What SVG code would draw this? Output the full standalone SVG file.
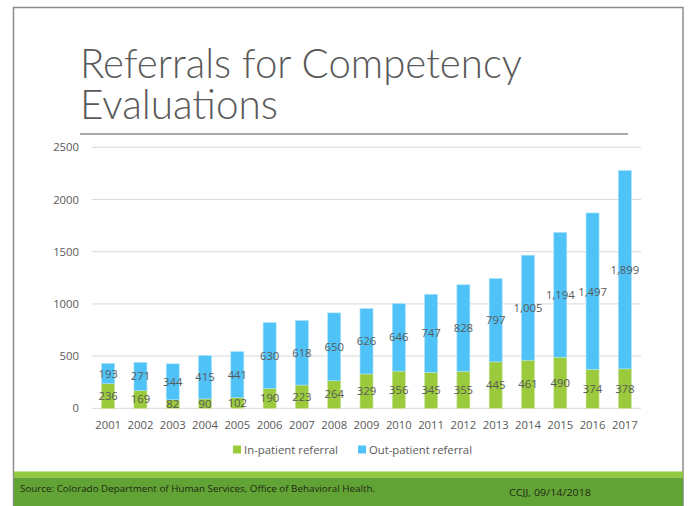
<svg xmlns="http://www.w3.org/2000/svg" width="691" height="506" viewBox="0 0 691 506">
<style>
.t{font-family:"Open Sans","Liberation Sans",sans-serif;fill:#595959;font-size:11.3px}
.m{text-anchor:middle}
.r{text-anchor:end}
.g{fill:#9bcb3c;stroke:#c9e59a;stroke-width:0.6}
.b{fill:#4fc3f7;stroke:#a8e2fb;stroke-width:0.6}
.grid{stroke:#d9d9d9;stroke-width:1}
.title{font-family:Lato,"Open Sans","Liberation Sans",sans-serif;font-weight:300;fill:#595959;font-size:42px}
.foot{font-family:"Open Sans","Liberation Sans",sans-serif;fill:#1e2a12;font-size:9px}
</style>
<rect x="0" y="0" width="691" height="506" fill="#ffffff"/>
<rect x="13.5" y="7.5" width="669.5" height="500" fill="none" stroke="#8c8c8c" stroke-width="1.5"/>
<g id="title">
<text class="title" x="80" y="78" textLength="442" lengthAdjust="spacingAndGlyphs">Referrals for Competency</text>
<text class="title" x="80" y="119" textLength="198" lengthAdjust="spacingAndGlyphs">Evaluations</text>
<line x1="80" y1="134" x2="628" y2="134" stroke="#8c8c8c" stroke-width="1.5"/>
</g>
<g id="axes">
<line class="grid" x1="92" y1="147.3" x2="641" y2="147.3"/>
<line class="grid" x1="92" y1="199.5" x2="641" y2="199.5"/>
<line class="grid" x1="92" y1="251.7" x2="641" y2="251.7"/>
<line class="grid" x1="92" y1="303.9" x2="641" y2="303.9"/>
<line class="grid" x1="92" y1="356.1" x2="641" y2="356.1"/>
<line class="grid" x1="92" y1="408.3" x2="641" y2="408.3"/>
<text class="t r" x="79" y="151.3">2500</text>
<text class="t r" x="79" y="203.5">2000</text>
<text class="t r" x="79" y="255.7">1500</text>
<text class="t r" x="79" y="307.9">1000</text>
<text class="t r" x="79" y="360.1">500</text>
<text class="t r" x="79" y="412.3">0</text>
</g>
<g id="bars">
<g id="y2001"><rect class="g" x="101.65" y="383.66" width="13" height="24.64"/><rect class="b" x="101.65" y="363.51" width="13" height="20.15"/><text class="t m" x="108.15" y="399.9">236</text><text class="t m" x="108.15" y="377.5">193</text><text class="t m" x="108.15" y="429">2001</text></g>
<g id="y2002"><rect class="g" x="133.94" y="390.66" width="13" height="17.64"/><rect class="b" x="133.94" y="362.37" width="13" height="28.29"/><text class="t m" x="140.44" y="403.4">169</text><text class="t m" x="140.44" y="380.4">271</text><text class="t m" x="140.44" y="429">2002</text></g>
<g id="y2003"><rect class="g" x="166.24" y="399.74" width="13" height="8.56"/><rect class="b" x="166.24" y="363.83" width="13" height="35.91"/><text class="t m" x="172.74" y="408">82</text><text class="t m" x="172.74" y="385.7">344</text><text class="t m" x="172.74" y="429">2003</text></g>
<g id="y2004"><rect class="g" x="198.53" y="398.9" width="13" height="9.4"/><rect class="b" x="198.53" y="355.57" width="13" height="43.33"/><text class="t m" x="205.03" y="407.5">90</text><text class="t m" x="205.03" y="381.2">415</text><text class="t m" x="205.03" y="429">2004</text></g>
<g id="y2005"><rect class="g" x="230.83" y="397.65" width="13" height="10.65"/><rect class="b" x="230.83" y="351.61" width="13" height="46.04"/><text class="t m" x="237.33" y="406.9">102</text><text class="t m" x="237.33" y="378.6">441</text><text class="t m" x="237.33" y="429">2005</text></g>
<g id="y2006"><rect class="g" x="263.12" y="388.46" width="13" height="19.84"/><rect class="b" x="263.12" y="322.69" width="13" height="65.77"/><text class="t m" x="269.62" y="402.3">190</text><text class="t m" x="269.62" y="359.5">630</text><text class="t m" x="269.62" y="429">2006</text></g>
<g id="y2007"><rect class="g" x="295.41" y="385.02" width="13" height="23.28"/><rect class="b" x="295.41" y="320.5" width="13" height="64.52"/><text class="t m" x="301.91" y="400.6">223</text><text class="t m" x="301.91" y="356.7">618</text><text class="t m" x="301.91" y="429">2007</text></g>
<g id="y2008"><rect class="g" x="327.71" y="380.74" width="13" height="27.56"/><rect class="b" x="327.71" y="312.88" width="13" height="67.86"/><text class="t m" x="334.21" y="398.4">264</text><text class="t m" x="334.21" y="350.7">650</text><text class="t m" x="334.21" y="429">2008</text></g>
<g id="y2009"><rect class="g" x="360" y="373.95" width="13" height="34.35"/><rect class="b" x="360" y="308.6" width="13" height="65.35"/><text class="t m" x="366.5" y="395.1">329</text><text class="t m" x="366.5" y="345.2">626</text><text class="t m" x="366.5" y="429">2009</text></g>
<g id="y2010"><rect class="g" x="392.3" y="371.13" width="13" height="37.17"/><rect class="b" x="392.3" y="303.69" width="13" height="67.44"/><text class="t m" x="398.8" y="393.6">356</text><text class="t m" x="398.8" y="341.3">646</text><text class="t m" x="398.8" y="429">2010</text></g>
<g id="y2011"><rect class="g" x="424.59" y="372.28" width="13" height="36.02"/><rect class="b" x="424.59" y="294.29" width="13" height="77.99"/><text class="t m" x="431.09" y="394.2">345</text><text class="t m" x="431.09" y="337.2">747</text><text class="t m" x="431.09" y="429">2011</text></g>
<g id="y2012"><rect class="g" x="456.88" y="371.24" width="13" height="37.06"/><rect class="b" x="456.88" y="284.8" width="13" height="86.44"/><text class="t m" x="463.38" y="393.7">355</text><text class="t m" x="463.38" y="331.9">828</text><text class="t m" x="463.38" y="429">2012</text></g>
<g id="y2013"><rect class="g" x="489.18" y="361.84" width="13" height="46.46"/><rect class="b" x="489.18" y="278.63" width="13" height="83.21"/><text class="t m" x="495.68" y="389">445</text><text class="t m" x="495.68" y="324.2">797</text><text class="t m" x="495.68" y="429">2013</text></g>
<g id="y2014"><rect class="g" x="521.47" y="360.17" width="13" height="48.13"/><rect class="b" x="521.47" y="255.25" width="13" height="104.92"/><text class="t m" x="527.97" y="388.2">461</text><text class="t m" x="527.97" y="312">1,005</text><text class="t m" x="527.97" y="429">2014</text></g>
<g id="y2015"><rect class="g" x="553.77" y="357.14" width="13" height="51.16"/><rect class="b" x="553.77" y="232.49" width="13" height="124.65"/><text class="t m" x="560.27" y="386.6">490</text><text class="t m" x="560.27" y="299">1,194</text><text class="t m" x="560.27" y="429">2015</text></g>
<g id="y2016"><rect class="g" x="586.06" y="369.25" width="13" height="39.05"/><rect class="b" x="586.06" y="212.96" width="13" height="156.29"/><text class="t m" x="592.56" y="392.7">374</text><text class="t m" x="592.56" y="296">1,497</text><text class="t m" x="592.56" y="429">2016</text></g>
<g id="y2017"><rect class="g" x="618.35" y="368.84" width="13" height="39.46"/><rect class="b" x="618.35" y="170.58" width="13" height="198.26"/><text class="t m" x="624.85" y="392.5">378</text><text class="t m" x="624.85" y="273.7">1,899</text><text class="t m" x="624.85" y="429">2017</text></g>
</g>
<g id="legend">
<rect x="233" y="445.5" width="8" height="8" fill="#9bcb3c"/>
<text class="t" x="244" y="453.5" textLength="94" lengthAdjust="spacingAndGlyphs">In-patient referral</text>
<rect x="358" y="445.5" width="8" height="8" fill="#4fc3f7"/>
<text class="t" x="369" y="453.5" textLength="103" lengthAdjust="spacingAndGlyphs">Out-patient referral</text>
</g>
<g id="footer">
<rect x="14" y="471.5" width="669" height="6" fill="#92c83e"/>
<rect x="14" y="477.5" width="669" height="28.5" fill="#62a336"/>
<text class="foot" x="20" y="492" textLength="355" lengthAdjust="spacingAndGlyphs">Source: Colorado Department of Human Services, Office of Behavioral Health.</text>
<text class="foot" x="509" y="496" textLength="82" lengthAdjust="spacingAndGlyphs">CCJJ, 09/14/2018</text>
</g>
</svg>
